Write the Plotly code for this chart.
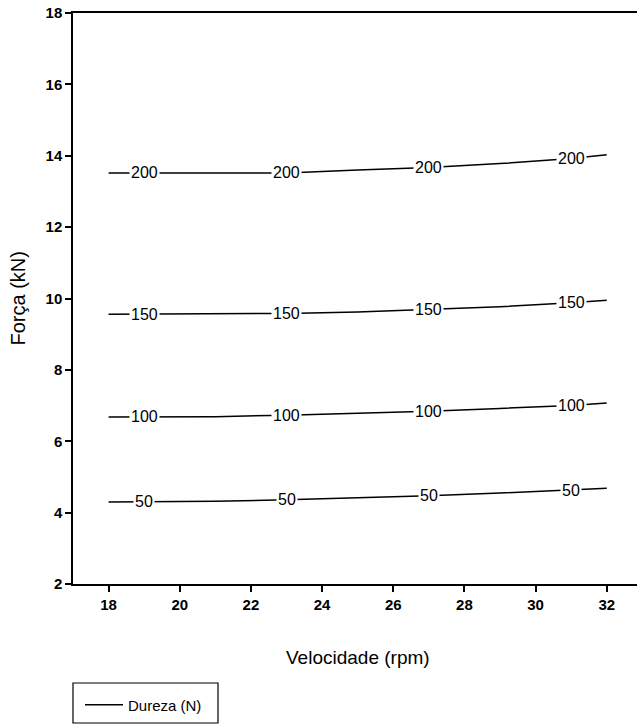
import plotly.graph_objects as go

# Data (contour lines of Dureza (N) in Velocidade x Força space)
velocidade = [18, 19, 21, 23, 25, 27, 29, 31, 32]
forca_200 = [13.52, 13.52, 13.51, 13.52, 13.60, 13.67, 13.78, 13.92, 14.03]
forca_150 = [9.56, 9.56, 9.56, 9.58, 9.62, 9.69, 9.77, 9.88, 9.95]
forca_100 = [6.68, 6.68, 6.69, 6.73, 6.78, 6.84, 6.92, 7.00, 7.07]
forca_50 = [4.30, 4.30, 4.32, 4.36, 4.41, 4.47, 4.55, 4.63, 4.68]
niveis = ["200", "150", "100", "50"]
series = [forca_200, forca_150, forca_100, forca_50]
label_x = [19, 23, 27, 31]

x_ticks = [18, 20, 22, 24, 26, 28, 30, 32]
y_ticks = [2, 4, 6, 8, 10, 12, 14, 16, 18]

FONT = "Liberation Sans, Arial, sans-serif"

fig = go.Figure()
for i, (lvl, ys) in enumerate(zip(niveis, series)):
    fig.add_trace(go.Scatter(
        x=velocidade, y=ys, mode="lines",
        line=dict(color="black", width=1.5),
        name="Dureza (N)", legendgroup="dureza",
        showlegend=(i == 0), hoverinfo="skip",
    ))

annotations = []
for lvl, ys in zip(niveis, series):
    for lx in label_x:
        ly = ys[velocidade.index(lx)]
        annotations.append(dict(
            x=lx, y=ly, xref="x", yref="y", text=lvl, showarrow=False,
            font=dict(family=FONT, size=16, color="black"),
            bgcolor="white", borderpad=1, xanchor="center", yanchor="middle",
        ))

# Axis titles
W, H = 637, 725
L, R, T, B = 73, 0, 13, 141
ph = H - T - B
pw = W - L - R
annotations.append(dict(
    x=25, xref="x", y=(H - B - 657) / ph, yref="paper",
    text="Velocidade (rpm)", showarrow=False,
    font=dict(family=FONT, size=19, color="black"),
    xanchor="center", yanchor="middle",
))
annotations.append(dict(
    x=(17.5 - L) / pw, xref="paper", y=(H - B - 299) / ph, yref="paper",
    text="Força (kN)", showarrow=False, textangle=-90,
    font=dict(family=FONT, size=20, color="black"),
    xanchor="center", yanchor="middle",
))

shapes = [dict(
    type="rect", xref="paper", yref="paper",
    x0=0, x1=(218 - L) / pw,
    y0=(H - B - 683) / ph, y1=(H - B - 723) / ph,
    line=dict(color="black", width=1.2), fillcolor="rgba(0,0,0,0)",
)]

fig.update_layout(
    width=W, height=H,
    margin=dict(l=L, r=R, t=T, b=B, autoexpand=False),
    plot_bgcolor="white", paper_bgcolor="white",
    font=dict(family=FONT, size=15, color="black"),
    annotations=annotations, shapes=shapes,
    showlegend=True,
    legend=dict(
        x=(80 - L) / pw, xanchor="left",
        y=(H - B - 705) / ph, yanchor="middle",
        bgcolor="rgba(0,0,0,0)", borderwidth=0,
        font=dict(family=FONT, size=15, color="black"),
        itemwidth=38,
    ),
    xaxis=dict(
        range=[17, 32.85], tickvals=x_ticks,
        showgrid=False, zeroline=False,
        showline=True, linecolor="black", linewidth=1.5, mirror=True,
        ticks="outside", ticklen=6, tickwidth=1.5, tickcolor="black",
        tickfont=dict(family=FONT, size=15, color="black", weight="bold"),
    ),
    yaxis=dict(
        range=[2, 18], tickvals=y_ticks,
        showgrid=False, zeroline=False,
        showline=True, linecolor="black", linewidth=1.5,
        ticks="outside", ticklen=6, tickwidth=1.5, tickcolor="black",
        tickfont=dict(family=FONT, size=15, color="black", weight="bold"),
    ),
)

fig.write_html(
    "out.html",
    config={"displayModeBar": False},
    post_script="document.body.style.margin='0';document.body.style.overflow='hidden';",
)
